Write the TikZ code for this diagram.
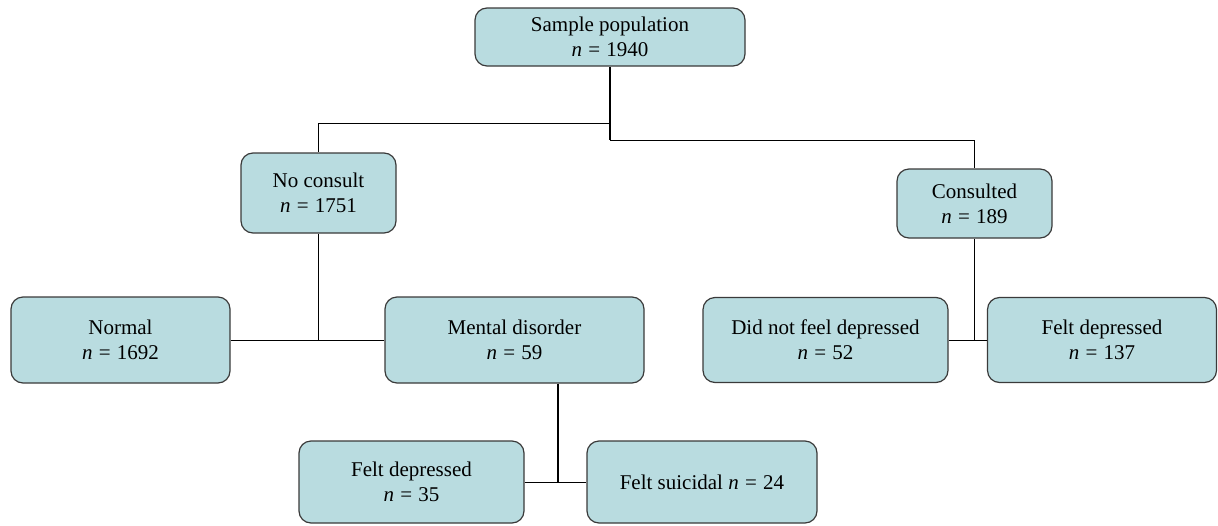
\documentclass[tikz,border=0pt]{standalone}
\usepackage{fontspec}
\setmainfont{Liberation Serif}
\definecolor{boxfill}{HTML}{B9DCE0}
\definecolor{boxline}{HTML}{3A3A3A}
\newcommand{\nval}[1]{\textit{n}\hspace{0.3em}=\hspace{0.3em}#1}
\begin{document}
\begin{tikzpicture}[x=1pt,y=-1pt,
  box/.style={draw=boxline, fill=boxfill, line width=1.2pt, rounded corners=12pt,
    align=center, inner sep=0pt, font=\fontsize{21}{25}\selectfont},
  conn/.style={draw=black, line width=0.9pt},
  stem/.style={draw=black, line width=1.8pt}]
\useasboundingbox (0,0) rectangle (1218,525);
% boxes
\node[box, minimum width=270pt, minimum height=58pt] (top) at (610,37) {Sample population\\\nval{1940}};
\node[box, minimum width=155pt, minimum height=80pt] (nocons) at (318.5,193) {No consult\\\nval{1751}};
\node[box, minimum width=155pt, minimum height=69pt] (cons) at (974.5,203.5) {Consulted\\\nval{189}};
\node[box, minimum width=219pt, minimum height=86pt] (normal) at (120.5,340) {Normal\\\nval{1692}};
\node[box, minimum width=259pt, minimum height=86pt] (mental) at (514.5,340) {Mental disorder\\\nval{59}};
\node[box, minimum width=245pt, minimum height=85pt] (didnot) at (825.5,340) {Did not feel depressed\\\nval{52}};
\node[box, minimum width=229pt, minimum height=85pt] (feltr) at (1102,340) {Felt depressed\\\nval{137}};
\node[box, minimum width=225pt, minimum height=82pt] (feltb) at (411.5,482) {Felt depressed\\\nval{35}};
\node[box, minimum width=230pt, minimum height=82pt] (suic) at (702,482) {Felt suicidal \nval{24}};
% junctions
\coordinate (j1) at (610,123);
\coordinate (j2) at (610,140);
\coordinate (j3) at (558,483);
% connectors
\draw[stem] (top.south) -- (j2);
\draw[conn] (j1) -| (nocons.north);
\draw[conn] (j2) -| (cons.north);
\draw[conn] (normal.east) -- (mental.west);
\draw[stem] (nocons.south) -- (nocons.south |- normal.east);
\draw[conn] (didnot.east) -- (feltr.west);
\draw[stem] (cons.south) -- (cons.south |- didnot.east);
\draw[stem] (j3 |- mental.south) -- (j3);
\draw[conn] (feltb.east) -- (suic.west);
\end{tikzpicture}
\end{document}
